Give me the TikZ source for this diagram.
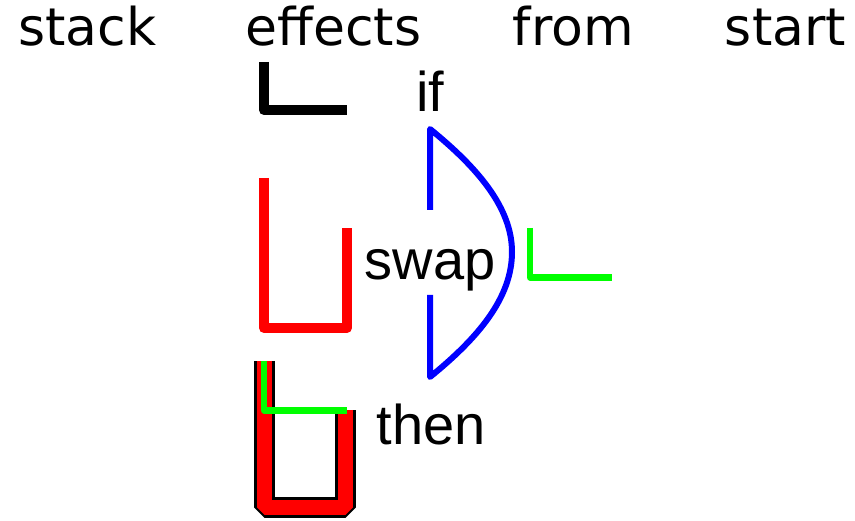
\documentclass[tikz,border=0pt]{standalone}
\usepackage{fontspec}
\newfontfamily\hdrfont{DejaVu Sans}
\newfontfamily\labfont{Liberation Sans}
\begin{document}
\begin{tikzpicture}[x=1pt,y=-1pt,
  hdr/.style={anchor=base,inner sep=0pt,font=\hdrfont\fontsize{52}{60}\selectfont},
  lab/.style={anchor=base,inner sep=0pt,font=\labfont\fontsize{56}{64}\selectfont},
  thickblack/.style={line width=10pt,draw=black,line join=round},
  redline/.style={line width=10pt,draw=red,line join=round},
  blueline/.style={line width=6pt,draw=blue,line join=round},
  greenline/.style={line width=6.5pt,draw=green,line join=round},
  outlineblack/.style={line width=21pt,draw=black,line join=bevel},
  outlinered/.style={line width=15pt,draw=red,line join=bevel}]
\useasboundingbox (0,0) rectangle (855,521);
% headers
\node[hdr] (hstack) at (87.5,46) {stack};
\node[hdr] (heffects) at (333.5,46) {effects};
\node[hdr] (hfrom) at (573.5,46) {from};
\node[hdr] (hstart) at (785.5,46) {start};
% labels
\node[lab] (lif) at (430.5,112) {if};
\node[lab] (lswap) at (430,280) {swap};
\node[lab] (lthen) at (431,445) {then};
% black L (if)
\coordinate (b1) at (264,62);
\coordinate (b2) at (264,110);
\coordinate (b3) at (347,110);
\draw[thickblack] (b1) -- (b2) -- (b3);
% red U (swap)
\coordinate (r1) at (264,178);
\coordinate (r2) at (264,328);
\coordinate (r3) at (347,328);
\coordinate (r4) at (347,228);
\draw[redline] (r1) -- (r2) -- (r3) -- (r4);
% blue if-shape
\coordinate (u1) at (430,210);
\coordinate (u2) at (430,129);
\coordinate (u3) at (512,252);
\coordinate (u4) at (430,377);
\coordinate (u5) at (430,295);
\draw[blueline] (u1) -- (u2) .. controls (478,168) and (512,208) .. (u3)
  .. controls (512,298) and (478,338) .. (u4) -- (u5);
% green L after swap
\coordinate (g1) at (530,228);
\coordinate (g2) at (530,277.5);
\coordinate (g3) at (612,277.5);
\draw[greenline] (g1) -- (g2) -- (g3);
% bottom outlined U (then)
\coordinate (t1) at (264,361);
\coordinate (t2) at (264,507.5);
\coordinate (t3) at (345.5,507.5);
\coordinate (t4) at (345.5,410.5);
\draw[outlineblack] (t1) -- (t2) -- (t3) -- (t4);
\draw[outlinered] (t1) -- (t2) -- (t3) -- (t4);
% green L inside
\coordinate (k1) at (264,361);
\coordinate (k2) at (264,410.3);
\coordinate (k3) at (346.7,410.3);
\draw[greenline] (k1) -- (k2) -- (k3);
\end{tikzpicture}
\end{document}
